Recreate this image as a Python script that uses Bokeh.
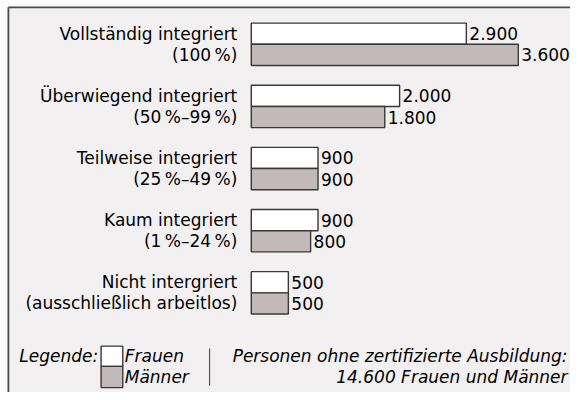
from bokeh.plotting import figure
from bokeh.models import Range1d
from bokeh.embed import file_html
from bokeh.resources import INLINE
from bokeh.core.properties import value

# ---- data ----
labels_line1 = ["Vollständig integriert", "Überwiegend integriert", "Teilweise integriert",
                "Kaum integriert", "Nicht intergriert"]
labels_line2 = ["(100\u202f%)", "(50\u202f%–99\u202f%)", "(25\u202f%–49\u202f%)",
                "(1\u202f%–24\u202f%)", "(ausschließlich arbeitlos)"]
frauen = [2900, 2000, 900, 900, 500]
maenner = [3600, 1800, 900, 800, 500]
series_names = ["Frauen", "Männer"]
legend_title = "Legende:"
note_lines = ["Personen ohne zertifizierte Ausbildung:", "14.600 Frauen und Männer"]

# ---- styling / layout ----
W, H = 570, 392
SX, SY = W / 578.0, H / 400.0
X0_PX = 254.3 * SX
PX_PER_UNIT = 0.0752 * SX
FONT = value("DejaVu Sans")
FS = "17px"
BG = "#f2f0f0"
GRAY = "#c2bab8"
EDGE = "#383838"
TXT = "#000000"

x_start = -X0_PX / PX_PER_UNIT
x_end = (W - X0_PX) / PX_PER_UNIT

p = figure(width=W, height=H, output_backend="svg", toolbar_location=None,
           x_range=Range1d(x_start, x_end), y_range=Range1d(H, 0),
           x_axis_location=None, y_axis_location=None, min_border=0)
p.extra_x_ranges = {"px": Range1d(0, W)}
p.grid.visible = False
p.outline_line_color = None
p.background_fill_color = "#fcfcfc"
p.border_fill_color = "#fcfcfc"

# panel with left/top frame
bx, by = 8 * SX, 7 * SY
p.quad(left=[bx], right=[W + 5], top=[by], bottom=[H + 5], fill_color=BG,
       line_color=None, x_range_name="px")
p.segment(x0=[bx, bx], y0=[H + 5, by], x1=[bx, W + 5], y1=[by, by],
          line_color="#4a4a4a", line_width=1.8, x_range_name="px")

n = len(frauen)
first_c, step, bh = 44.7 * SY, 63.4 * SY, 21.6 * SY
centers = [first_c + i * step for i in range(n)]
y_f = [c - bh / 2 for c in centers]
y_m = [c + bh / 2 for c in centers]

p.hbar(y=y_f, left=0, right=frauen, height=bh, fill_color="white",
       line_color=EDGE, line_width=1.4)
p.hbar(y=y_m, left=0, right=maenner, height=bh, fill_color=GRAY,
       line_color=EDGE, line_width=1.4)

def fmt(v):
    return f"{v:,}".replace(",", ".")

common = dict(text_font=FONT, text_font_size=FS, text_color=TXT, text_baseline="middle")
p.text(x=frauen, y=y_f, text=[fmt(v) for v in frauen], x_offset=3, text_align="left", **common)
p.text(x=maenner, y=y_m, text=[fmt(v) for v in maenner], x_offset=3, text_align="left", **common)
p.text(x=[0] * n, y=y_f, text=labels_line1, x_offset=-14, text_align="right", **common)
p.text(x=[0] * n, y=y_m, text=labels_line2, x_offset=-14, text_align="right", **common)

# ---- legend & note (pixel range) ----
ital = dict(common, text_font_style="italic")
l1, l2 = 362.7 * SY, 384 * SY
p.text(x=[99 * SX], y=[l1], text=[legend_title], text_align="right", x_range_name="px", **ital)
p.quad(left=[102 * SX], right=[124 * SX], top=[352.7 * SY], bottom=[373.3 * SY],
       fill_color="white", line_color=EDGE, line_width=1.4, x_range_name="px")
p.quad(left=[102 * SX], right=[124 * SX], top=[373.3 * SY], bottom=[395 * SY],
       fill_color=GRAY, line_color=EDGE, line_width=1.4, x_range_name="px")
p.text(x=[126 * SX] * 2, y=[l1, l2], text=series_names, text_align="left", x_range_name="px", **ital)
p.segment(x0=[212 * SX], y0=[355 * SY], x1=[212 * SX], y1=[393 * SY], line_color="#555555",
          line_width=1.2, x_range_name="px")
p.text(x=[575 * SX] * 2, y=[l1, l2], text=note_lines, text_align="right", x_range_name="px", **ital)

open("out.html", "w").write(file_html(p, INLINE))
